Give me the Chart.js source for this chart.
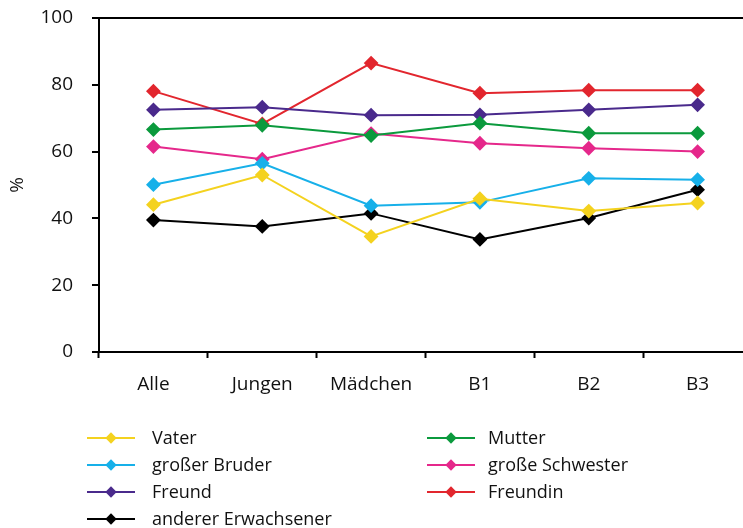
<!DOCTYPE html>
<html>
<head>
<meta charset="utf-8">
<script src="https://cdn.jsdelivr.net/npm/chart.js@4"></script>
<style>
  html, body { margin: 0; padding: 0; background: #fff; overflow: hidden; width: 743px; height: 528px; }
  #wrap { position: relative; width: 743px; height: 528px; overflow: hidden; }
  #chart { position: absolute; left: 0; top: 0; }
  #legend { position: absolute; left: 0; top: 0; width: 743px; height: 528px; font-family: "Open Sans", sans-serif; font-size: 18px; color: #111; }
  .item { position: absolute; height: 20px; }
  .item .ln { position: absolute; top: 9px; left: 0; width: 48px; height: 2px; }
  .item .dm { position: absolute; top: 6px; left: 20px; width: 8px; height: 8px; transform: rotate(45deg); }
  .item .tx { position: absolute; top: -3px; white-space: nowrap; }
</style>
</head>
<body>
<div id="wrap">
  <canvas id="chart" width="760" height="400"></canvas>
  <div id="legend"></div>
</div>
<script>
// Data
const categories = ['Alle', 'Jungen', 'Mädchen', 'B1', 'B2', 'B3'];
const yTicks = [0, 20, 40, 60, 80, 100];

const vater = [44.1, 53.0, 34.6, 45.9, 42.2, 44.6];
const mutter = [66.6, 67.9, 64.8, 68.5, 65.5, 65.5];
const grosserBruder = [50.1, 56.5, 43.8, 44.8, 52.0, 51.6];
const grosseSchwester = [61.5, 57.7, 65.4, 62.5, 61.0, 60.0];
const freund = [72.5, 73.3, 70.9, 71.0, 72.5, 74.0];
const freundin = [78.1, 68.3, 86.5, 77.5, 78.4, 78.4];
const andererErwachsener = [39.5, 37.6, 41.5, 33.7, 40.1, 48.6];

const series = [
    { label: 'Vater', data: vater, color: '#f4d21f' },
    { label: 'Mutter', data: mutter, color: '#0b9a3d' },
    { label: 'großer Bruder', data: grosserBruder, color: '#17b0e9' },
    { label: 'große Schwester', data: grosseSchwester, color: '#e5288b' },
    { label: 'Freund', data: freund, color: '#4a2a8c' },
    { label: 'Freundin', data: freundin, color: '#e2262e' },
    { label: 'anderer Erwachsener', data: andererErwachsener, color: '#000000' }
];

const font = { family: '"Open Sans", sans-serif', size: 19 };

const ctx = document.getElementById('chart').getContext('2d');
new Chart(ctx, {
    type: 'line',
    data: {
        labels: categories,
        datasets: series.map(s => ({
            label: s.label,
            data: s.data,
            borderColor: s.color,
            backgroundColor: s.color,
            borderWidth: 2,
            pointStyle: 'rectRot',
            pointRadius: 6,
            pointHoverRadius: 6,
            tension: 0
        }))
    },
    options: {
        responsive: false,
        animation: false,
        layout: { padding: { top: 18, right: 3, bottom: 0, left: 0 } },
        plugins: {
            legend: { display: false },
            tooltip: { enabled: false }
        },
        scales: {
            x: {
                offset: true,
                afterFit: scale => {
                    scale.height = 48;
                    scale.paddingLeft = 0;
                    scale.paddingRight = 0;
                },
                grid: {
                    offset: true,
                    drawOnChartArea: false,
                    tickLength: 6,
                    tickColor: '#000',
                    tickWidth: 2
                },
                border: { color: '#000', width: 2 },
                ticks: { color: '#111', font: font, padding: 15, maxRotation: 0 }
            },
            y: {
                min: 0,
                max: 100,
                afterFit: scale => {
                    scale.width = 99;
                    scale.paddingTop = 0;
                    scale.paddingBottom = 0;
                },
                afterBuildTicks: scale => { scale.ticks = yTicks.map(v => ({ value: v })); },
                title: { display: true, text: '%', color: '#111', font: font, padding: { top: 6, bottom: 0 } },
                grid: {
                    color: c => (c.tick && c.tick.value === 100) ? '#000' : 'rgba(0,0,0,0)',
                    lineWidth: 2,
                    tickLength: 7,
                    tickColor: '#000',
                    tickWidth: 2
                },
                border: { color: '#000', width: 2 },
                ticks: { color: '#111', font: font, padding: 19 }
            }
        }
    }
});

// Legend (two columns, row-major)
const legend = document.getElementById('legend');
series.forEach((s, i) => {
    const col = i % 2;
    const row = Math.floor(i / 2);
    const item = document.createElement('div');
    item.className = 'item';
    item.style.left = (col === 0 ? 87 : 427) + 'px';
    item.style.top = (428 + row * 27) + 'px';
    item.innerHTML = '<div class="ln"></div><div class="dm"></div><div class="tx"></div>';
    item.querySelector('.ln').style.background = s.color;
    item.querySelector('.dm').style.background = s.color;
    const tx = item.querySelector('.tx');
    tx.style.left = (col === 0 ? 65 : 61) + 'px';
    tx.textContent = s.label;
    legend.appendChild(item);
});
</script>
</body>
</html>
